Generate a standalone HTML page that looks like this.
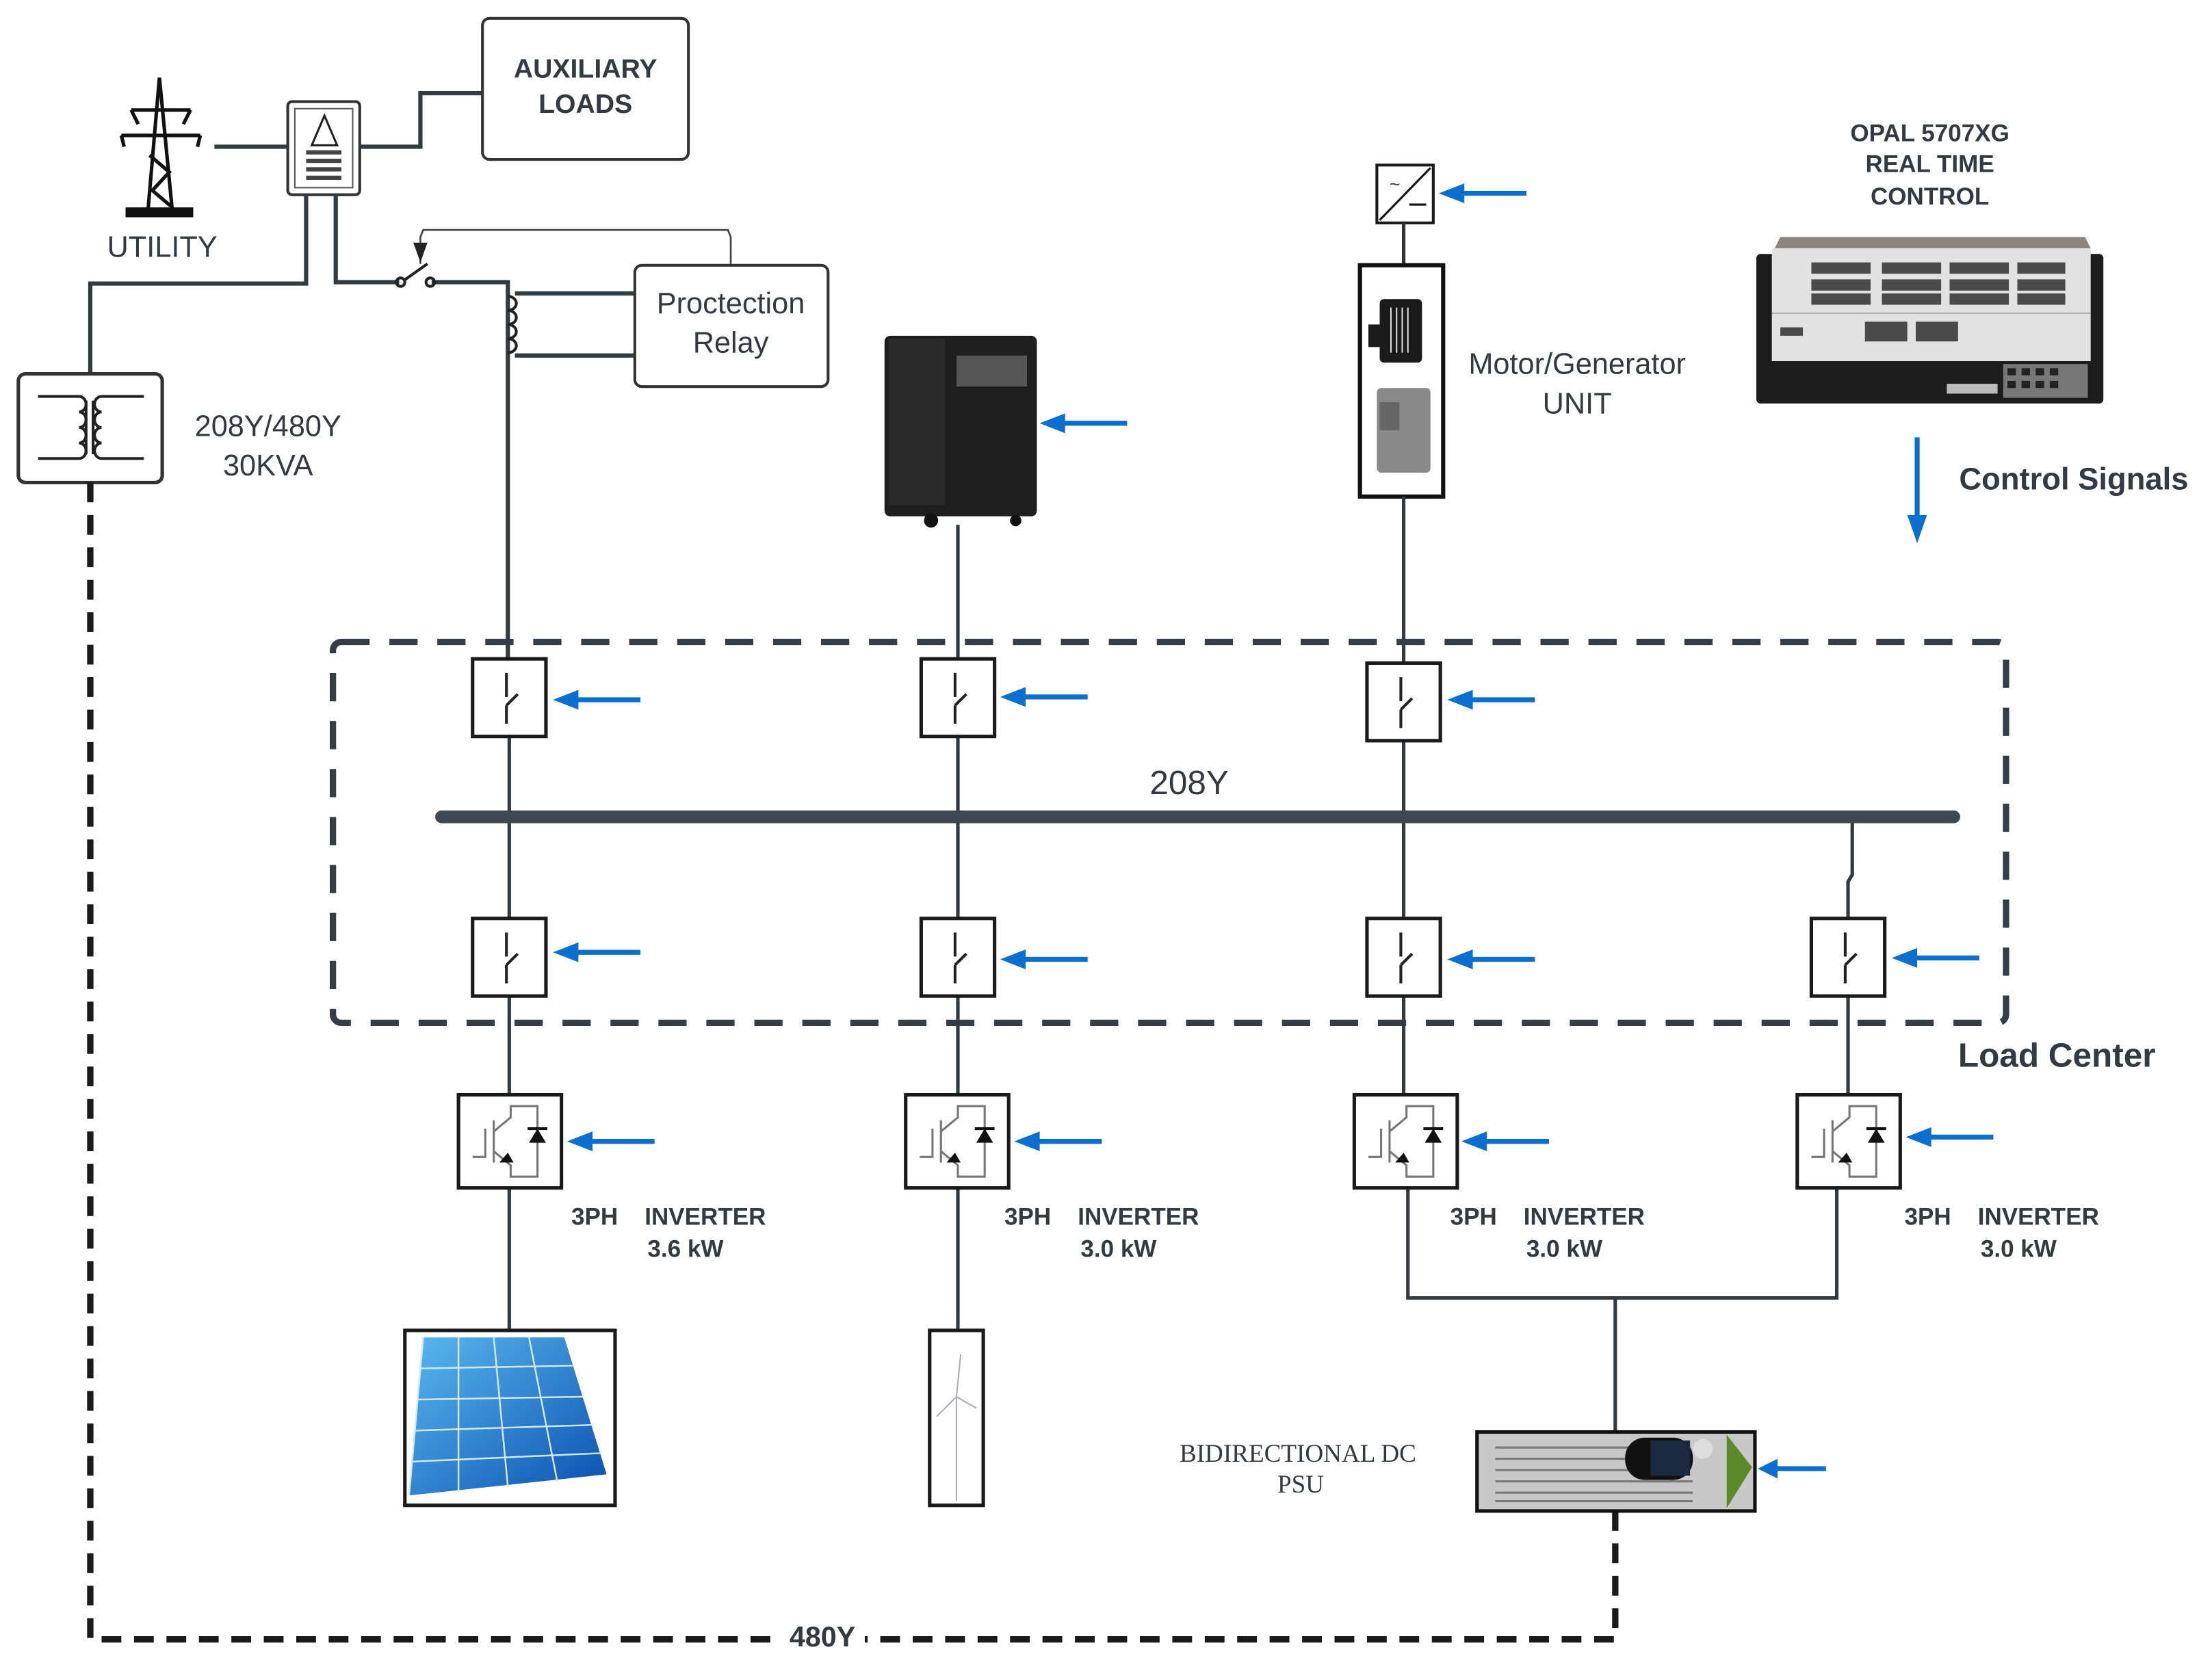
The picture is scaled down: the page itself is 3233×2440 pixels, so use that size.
<!DOCTYPE html>
<html><head><meta charset="utf-8"><style>
html,body{margin:0;padding:0;background:#fff;}
svg{display:block;}
text{font-family:"Liberation Sans",sans-serif;fill:#333a40;}
</style></head><body>
<svg width="3233" height="2440" viewBox="0 0 1568 1183" preserveAspectRatio="none" xmlns="http://www.w3.org/2000/svg">
<defs>
<linearGradient id="sol" x1="0" y1="0" x2="1" y2="1"><stop offset="0" stop-color="#5ab8ee"/><stop offset="1" stop-color="#0a4fb0"/></linearGradient>
<g id="brk">
<rect x="-26" y="0" width="52" height="55" fill="#fff" stroke="#1a1a1a" stroke-width="2.5"/>
<line x1="-2" y1="10" x2="-2" y2="27" stroke="#222" stroke-width="2"/>
<line x1="6" y1="25" x2="-2" y2="33" stroke="#222" stroke-width="2"/>
<line x1="-2" y1="33" x2="-2" y2="46" stroke="#222" stroke-width="2"/>
</g>
<g id="inv">
<rect x="0" y="0" width="73" height="66" fill="#fff" stroke="#1a1a1a" stroke-width="2.5"/>
<g stroke="#777" stroke-width="1.5" fill="none">
<polyline points="10,44 19,44 19,24"/>
<line x1="25" y1="18" x2="25" y2="48"/>
<polyline points="25,26 37,16 37,8 56,8 56,58 37,58 37,50 25,40"/>
</g>
<polygon points="50,34 62,34 56,24" fill="#111"/>
<line x1="49" y1="24" x2="63" y2="24" stroke="#111" stroke-width="2"/>
<polygon points="29,48 39,48 35,41" fill="#111"/>
</g>
<g id="arr"><line x1="62" y1="0" x2="14" y2="0" stroke="#0a6fcf" stroke-width="3.5"/><polygon points="0,0 18,-7 18,7" fill="#0a6fcf"/></g>
<g id="port"><rect x="0" y="0" width="6" height="5" fill="#555"/></g>
</defs>

<!-- tower -->
<g stroke="#111" stroke-width="2.5" fill="none">
<line x1="113" y1="55" x2="105" y2="148"/><line x1="113" y1="55" x2="122" y2="148"/>
<line x1="93" y1="78" x2="135" y2="78"/><line x1="86" y1="96" x2="142" y2="96"/>
<polyline points="106,110 120,122 108,135 121,146"/>
<line x1="93" y1="78" x2="98" y2="88"/><line x1="135" y1="78" x2="130" y2="88"/>
<line x1="86" y1="96" x2="88" y2="104"/><line x1="142" y1="96" x2="140" y2="104"/>
</g>
<rect x="89" y="147" width="48" height="7" fill="#111"/>
<text x="115" y="182" font-size="21" text-anchor="middle">UTILITY</text>

<!-- panel -->
<rect x="204" y="72" width="51" height="66" rx="3" fill="#fff" stroke="#333" stroke-width="2"/>
<rect x="209" y="77" width="41" height="56" fill="none" stroke="#555" stroke-width="1"/>
<polygon points="230,82 221,103 239,103" fill="none" stroke="#222" stroke-width="1.5"/>
<g stroke="#444" stroke-width="3"><line x1="217" y1="108" x2="242" y2="108"/><line x1="217" y1="114" x2="242" y2="114"/><line x1="217" y1="120" x2="242" y2="120"/><line x1="217" y1="126" x2="242" y2="126"/></g>

<g stroke="#333a40" stroke-width="3" fill="none">
<line x1="152" y1="104" x2="204" y2="104"/>
<polyline points="255,104 298,104 298,66 342,66"/>
<polyline points="217,138 217,201 64,201 64,265"/>
<polyline points="238,138 238,200 283,200"/>
<polyline points="306,200 360,200 360,467"/>
<line x1="365" y1="208" x2="450" y2="208"/>
<line x1="365" y1="252" x2="450" y2="252"/>
</g>
<g stroke="#222" stroke-width="2" fill="none">
<circle cx="284" cy="200" r="3"/><circle cx="305" cy="200" r="3"/>
<line x1="286" y1="199" x2="303" y2="187"/>
<path d="M360,210 a6,5 0 1 1 0,10 a6,5 0 1 1 0,10 a6,5 0 1 1 0,10 a6,5 0 1 1 0,10"/>
</g>
<polyline points="298,187 298,168 300,163 516,163 518,168 518,188" fill="none" stroke="#444" stroke-width="1.3"/>
<polygon points="293,172 303,172 298,186" fill="#222"/>

<!-- aux loads -->
<rect x="342" y="13" width="146" height="100" rx="5" fill="#fff" stroke="#333" stroke-width="2"/>
<text x="415" y="55" font-size="19" font-weight="bold" text-anchor="middle">AUXILIARY</text>
<text x="415" y="80" font-size="19" font-weight="bold" text-anchor="middle">LOADS</text>

<!-- relay -->
<rect x="450" y="188" width="137" height="86" rx="5" fill="#fff" stroke="#333" stroke-width="2"/>
<text x="518" y="222" font-size="21" text-anchor="middle">Proctection</text>
<text x="518" y="250" font-size="21" text-anchor="middle">Relay</text>

<!-- transformer -->
<rect x="13" y="265" width="102" height="77" rx="5" fill="#fff" stroke="#333" stroke-width="2.5"/>
<g stroke="#222" stroke-width="2" fill="none">
<line x1="27" y1="281" x2="56" y2="281"/><line x1="27" y1="325" x2="56" y2="325"/>
<line x1="72" y1="281" x2="102" y2="281"/><line x1="72" y1="325" x2="102" y2="325"/>
<line x1="61" y1="284" x2="61" y2="322"/><line x1="66" y1="284" x2="66" y2="322"/>
<path d="M56,281 a5,5.5 0 1 1 0,11 a5,5.5 0 1 1 0,11 a5,5.5 0 1 1 0,11 a5,5.5 0 1 1 0,11"/>
<path d="M72,281 a5,5.5 0 1 0 0,11 a5,5.5 0 1 0 0,11 a5,5.5 0 1 0 0,11 a5,5.5 0 1 0 0,11"/>
</g>
<text x="190" y="309" font-size="21" text-anchor="middle">208Y/480Y</text>
<text x="190" y="337" font-size="21" text-anchor="middle">30KVA</text>

<!-- 480Y dashed -->
<polyline points="64,342 64,1162 1145,1162 1145,1071" fill="none" stroke="#1a1a1a" stroke-width="4.5" stroke-dasharray="14,9"/>
<rect x="553" y="1148" width="60" height="24" fill="#fff"/>
<text x="583" y="1167" font-size="20" font-weight="bold" text-anchor="middle">480Y</text>

<!-- genset -->
<rect x="627" y="238" width="108" height="128" rx="4" fill="#1e1e1e"/>
<rect x="678" y="252" width="50" height="22" fill="#555"/>
<rect x="630" y="240" width="40" height="118" fill="#2a2a2a"/>
<circle cx="660" cy="369" r="5" fill="#111"/><circle cx="720" cy="369" r="4" fill="#111"/>
<use href="#arr" x="737" y="300"/>
<line x1="679" y1="372" x2="679" y2="467" stroke="#333a40" stroke-width="2.5"/>

<!-- motor/gen -->
<rect x="976" y="117" width="40" height="41" fill="#fff" stroke="#1a1a1a" stroke-width="2"/>
<line x1="978" y1="156" x2="1014" y2="119" stroke="#111" stroke-width="1.5"/>
<text x="985" y="135" font-size="13">~</text>
<line x1="999" y1="145" x2="1011" y2="145" stroke="#111" stroke-width="1.5"/>
<use href="#arr" x="1020" y="137"/>
<line x1="995" y1="158" x2="995" y2="188" stroke="#333" stroke-width="2.5"/>
<rect x="964" y="188" width="59" height="164" fill="#fff" stroke="#111" stroke-width="3"/>
<rect x="978" y="212" width="30" height="45" rx="3" fill="#1a1a1a"/>
<g stroke="#ddd" stroke-width="1"><line x1="986" y1="218" x2="986" y2="250"/><line x1="990" y1="218" x2="990" y2="250"/><line x1="994" y1="218" x2="994" y2="250"/><line x1="998" y1="218" x2="998" y2="250"/></g>
<rect x="970" y="230" width="9" height="16" fill="#1a1a1a"/>
<rect x="976" y="275" width="38" height="60" rx="3" fill="#8a8a8a"/>
<rect x="978" y="285" width="14" height="20" fill="#666"/>
<text x="1118" y="265" font-size="21" text-anchor="middle">Motor/Generator</text>
<text x="1118" y="293" font-size="21" text-anchor="middle">UNIT</text>
<line x1="995" y1="352" x2="995" y2="470" stroke="#333a40" stroke-width="2.5"/>

<!-- OPAL -->
<text x="1368" y="100" font-size="17" font-weight="bold" text-anchor="middle">OPAL 5707XG</text>
<text x="1368" y="122" font-size="17" font-weight="bold" text-anchor="middle">REAL TIME</text>
<text x="1368" y="145" font-size="17" font-weight="bold" text-anchor="middle">CONTROL</text>
<rect x="1245" y="180" width="246" height="106" rx="3" fill="#1c1c1c"/>
<polygon points="1258,176 1262,168 1478,168 1482,176" fill="#8c8480"/>
<rect x="1256" y="176" width="226" height="80" fill="#e2e2e2"/>
<g fill="#4a4a4a">
<rect x="1284" y="186" width="42" height="8"/><rect x="1334" y="186" width="42" height="8"/><rect x="1382" y="186" width="42" height="8"/><rect x="1430" y="186" width="34" height="8"/>
<rect x="1284" y="198" width="42" height="8"/><rect x="1334" y="198" width="42" height="8"/><rect x="1382" y="198" width="42" height="8"/><rect x="1430" y="198" width="34" height="8"/>
<rect x="1284" y="208" width="42" height="8"/><rect x="1334" y="208" width="42" height="8"/><rect x="1382" y="208" width="42" height="8"/><rect x="1430" y="208" width="34" height="8"/>
<rect x="1322" y="228" width="30" height="14"/><rect x="1358" y="228" width="30" height="14"/>
<rect x="1262" y="232" width="16" height="6"/>
</g>
<line x1="1256" y1="222" x2="1482" y2="222" stroke="#aaa" stroke-width="1"/>
<g fill="#777"><rect x="1420" y="258" width="60" height="24"/></g>
<g fill="#222"><rect x="1423" y="261" width="6" height="5"/><rect x="1433" y="261" width="6" height="5"/><rect x="1443" y="261" width="6" height="5"/><rect x="1453" y="261" width="6" height="5"/><rect x="1423" y="270" width="6" height="5"/><rect x="1433" y="270" width="6" height="5"/><rect x="1443" y="270" width="6" height="5"/><rect x="1453" y="270" width="6" height="5"/></g>
<rect x="1380" y="272" width="36" height="7" fill="#bbb"/>
<line x1="1359" y1="310" x2="1359" y2="368" stroke="#0a6fcf" stroke-width="3.5"/>
<polygon points="1352,365 1366,365 1359,385" fill="#0a6fcf"/>
<text x="1470" y="347" font-size="22" font-weight="bold" text-anchor="middle">Control Signals</text>

<!-- load center dashed -->
<rect x="236" y="455" width="1186" height="270" rx="6" fill="none" stroke="#353e47" stroke-width="4.5" stroke-dasharray="20,14"/>
<text x="1458" y="756" font-size="24" font-weight="bold" text-anchor="middle">Load Center</text>

<!-- vertical feeders -->
<g stroke="#333a40" stroke-width="2.5" fill="none">
<line x1="361" y1="522" x2="361" y2="776"/>
<line x1="679" y1="522" x2="679" y2="776"/>
<line x1="995" y1="524" x2="995" y2="776"/>
<polyline points="1313,583 1313,620 1310,625 1310,776"/>
<line x1="361" y1="842" x2="361" y2="943"/>
<line x1="679" y1="842" x2="679" y2="943"/>
<polyline points="998,842 998,920 1302,920 1302,842"/>
<line x1="1145" y1="920" x2="1145" y2="1015"/>
</g>
<line x1="313" y1="579" x2="1385" y2="579" stroke="#3d4852" stroke-width="9" stroke-linecap="round"/>
<text x="843" y="563" font-size="24" text-anchor="middle">208Y</text>

<!-- breakers -->
<use href="#brk" x="361" y="467"/><use href="#brk" x="679" y="467"/><use href="#brk" x="995" y="470"/>
<use href="#brk" x="361" y="651"/><use href="#brk" x="679" y="651"/><use href="#brk" x="995" y="651"/><use href="#brk" x="1310" y="651"/>
<use href="#arr" x="392" y="496"/><use href="#arr" x="709" y="494"/><use href="#arr" x="1026" y="496"/>
<use href="#arr" x="392" y="675"/><use href="#arr" x="709" y="680"/><use href="#arr" x="1026" y="680"/><use href="#arr" x="1341" y="679"/>

<!-- inverters -->
<use href="#inv" x="325" y="776"/><use href="#inv" x="642" y="776"/><use href="#inv" x="960" y="776"/><use href="#inv" x="1274" y="776"/>
<use href="#arr" x="402" y="809"/><use href="#arr" x="719" y="809"/><use href="#arr" x="1036" y="809"/><use href="#arr" x="1351" y="806"/>
<g font-size="17" font-weight="bold">
<text x="405" y="868">3PH</text><text x="457" y="868">INVERTER</text><text x="459" y="891">3.6 kW</text>
<text x="712" y="868">3PH</text><text x="764" y="868">INVERTER</text><text x="766" y="891">3.0 kW</text>
<text x="1028" y="868">3PH</text><text x="1080" y="868">INVERTER</text><text x="1082" y="891">3.0 kW</text>
<text x="1350" y="868">3PH</text><text x="1402" y="868">INVERTER</text><text x="1404" y="891">3.0 kW</text>
</g>

<!-- solar -->
<rect x="287" y="943" width="149" height="124" fill="#fff" stroke="#1a1a1a" stroke-width="2.5"/>
<polygon points="300,948 400,948 430,1045 290,1060" fill="url(#sol)"/>
<g stroke="#cfeaff" stroke-width="1.2">
<line x1="300" y1="948" x2="290" y2="1060"/><line x1="325" y1="948" x2="325" y2="1057"/><line x1="350" y1="948" x2="360" y2="1054"/><line x1="375" y1="948" x2="395" y2="1050"/>
<line x1="298" y1="970" x2="406" y2="968"/><line x1="296" y1="992" x2="413" y2="990"/><line x1="294" y1="1014" x2="420" y2="1010"/><line x1="292" y1="1036" x2="426" y2="1030"/>
</g>

<!-- wind -->
<rect x="659" y="943" width="38" height="124" fill="#fff" stroke="#1a1a1a" stroke-width="2.5"/>
<g stroke="#aab" stroke-width="1"><line x1="678" y1="990" x2="678" y2="1064"/><line x1="678" y1="990" x2="664" y2="1004"/><line x1="678" y1="990" x2="692" y2="998"/><line x1="678" y1="990" x2="681" y2="960"/></g>

<!-- PSU -->
<text x="920" y="1036" font-size="18" style="font-family:'Liberation Serif',serif" text-anchor="middle">BIDIRECTIONAL DC</text>
<text x="922" y="1058" font-size="18" style="font-family:'Liberation Serif',serif" text-anchor="middle">PSU</text>
<rect x="1047" y="1015" width="197" height="56" fill="#c8c8c8" stroke="#111" stroke-width="2.5"/>
<g stroke="#777" stroke-width="1.5"><line x1="1060" y1="1026" x2="1160" y2="1026"/><line x1="1060" y1="1034" x2="1160" y2="1034"/><line x1="1060" y1="1042" x2="1160" y2="1042"/><line x1="1060" y1="1050" x2="1200" y2="1050"/><line x1="1060" y1="1058" x2="1200" y2="1058"/><line x1="1060" y1="1064" x2="1200" y2="1064"/></g>
<rect x="1152" y="1019" width="48" height="30" rx="14" fill="#111"/>
<rect x="1170" y="1021" width="28" height="25" fill="#1b2a40"/>
<circle cx="1207" cy="1027" r="7" fill="#ddd"/>
<polygon points="1224,1017 1242,1040 1224,1069" fill="#5c8a2a"/>
<g transform="translate(1246,1041) scale(0.78,1)"><use href="#arr" x="0" y="0"/></g>
</svg>
</body></html>
